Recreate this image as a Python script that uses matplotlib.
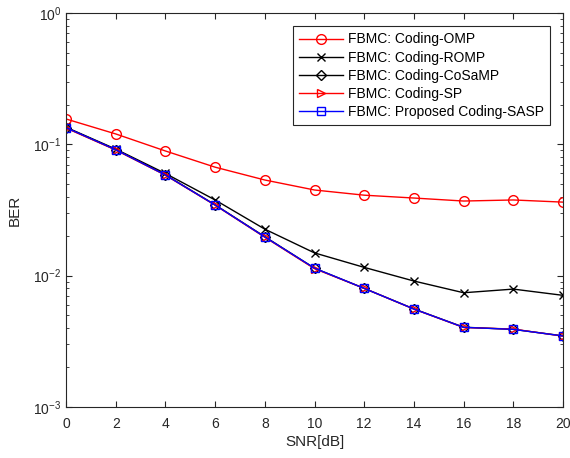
import matplotlib
matplotlib.use("Agg")
import matplotlib.pyplot as plt
from matplotlib.ticker import LogLocator, NullFormatter

plt.rcParams['font.family'] = ['Liberation Sans', 'DejaVu Sans']

snr = [0, 2, 4, 6, 8, 10, 12, 14, 16, 18, 20]
ber_omp = [0.156, 0.120, 0.089, 0.067, 0.0535, 0.0449, 0.041, 0.039, 0.037, 0.0377, 0.0363]
ber_romp = [0.135, 0.092, 0.060, 0.0377, 0.0226, 0.0149, 0.01156, 0.0091, 0.00741, 0.0079, 0.00708]
ber_cosamp = [0.134, 0.091, 0.0586, 0.0346, 0.0198, 0.0114, 0.0080, 0.00558, 0.00405, 0.0039, 0.00348]
ber_sp = [0.133, 0.0905, 0.0582, 0.0344, 0.0196, 0.0113, 0.0080, 0.00556, 0.00403, 0.00392, 0.00346]
ber_sasp = [0.134, 0.091, 0.0584, 0.0345, 0.0197, 0.0114, 0.0080, 0.00557, 0.00404, 0.0039, 0.00347]

fig = plt.figure(figsize=(5.7, 4.58), dpi=100)
ax = fig.add_axes([0.1158, 0.1114, 0.872, 0.8602])

ax.semilogy(snr, ber_omp, 'r-o', mfc='none', ms=7, lw=1, label='FBMC: Coding-OMP')
ax.semilogy(snr, ber_romp, 'k-x', ms=5.5, lw=1, label='FBMC: Coding-ROMP')
ax.semilogy(snr, ber_cosamp, 'k-D', mfc='none', ms=5, lw=1, label='FBMC: Coding-CoSaMP')
ax.semilogy(snr, ber_sp, 'r->', mfc='none', ms=6, lw=1, label='FBMC: Coding-SP')
ax.semilogy(snr, ber_sasp, 'b-s', mfc='none', ms=5.5, lw=1, label='FBMC: Proposed Coding-SASP')

ax.set_xlim(0, 20)
ax.set_ylim(1e-3, 1)
ax.set_xticks(snr)
ax.yaxis.set_major_locator(LogLocator(base=10, numticks=10))
ax.yaxis.set_minor_locator(LogLocator(base=10, subs=range(2, 10), numticks=10))
ax.yaxis.set_minor_formatter(NullFormatter())
ax.tick_params(which='both', direction='in', top=True, right=True, labelsize=10, colors='#262626')
ax.tick_params(which='major', length=4.5)
ax.tick_params(which='minor', length=2.5)
ax.tick_params(axis='x', pad=7)
for s in ax.spines.values():
    s.set_color('#262626')

ax.set_xlabel('SNR[dB]', fontsize=11, color='#262626', labelpad=3)
ax.set_ylabel('BER', fontsize=11, color='#262626', labelpad=8)

leg = ax.legend(loc='upper right', bbox_to_anchor=(1, 1), borderaxespad=0.95, fontsize=10,
                fancybox=False, edgecolor='#262626', framealpha=1, handlelength=3.2,
                borderpad=0.45, labelspacing=0.3, handletextpad=0.3)
leg.get_frame().set_linewidth(0.8)

fig.savefig('out.png', dpi=100)
